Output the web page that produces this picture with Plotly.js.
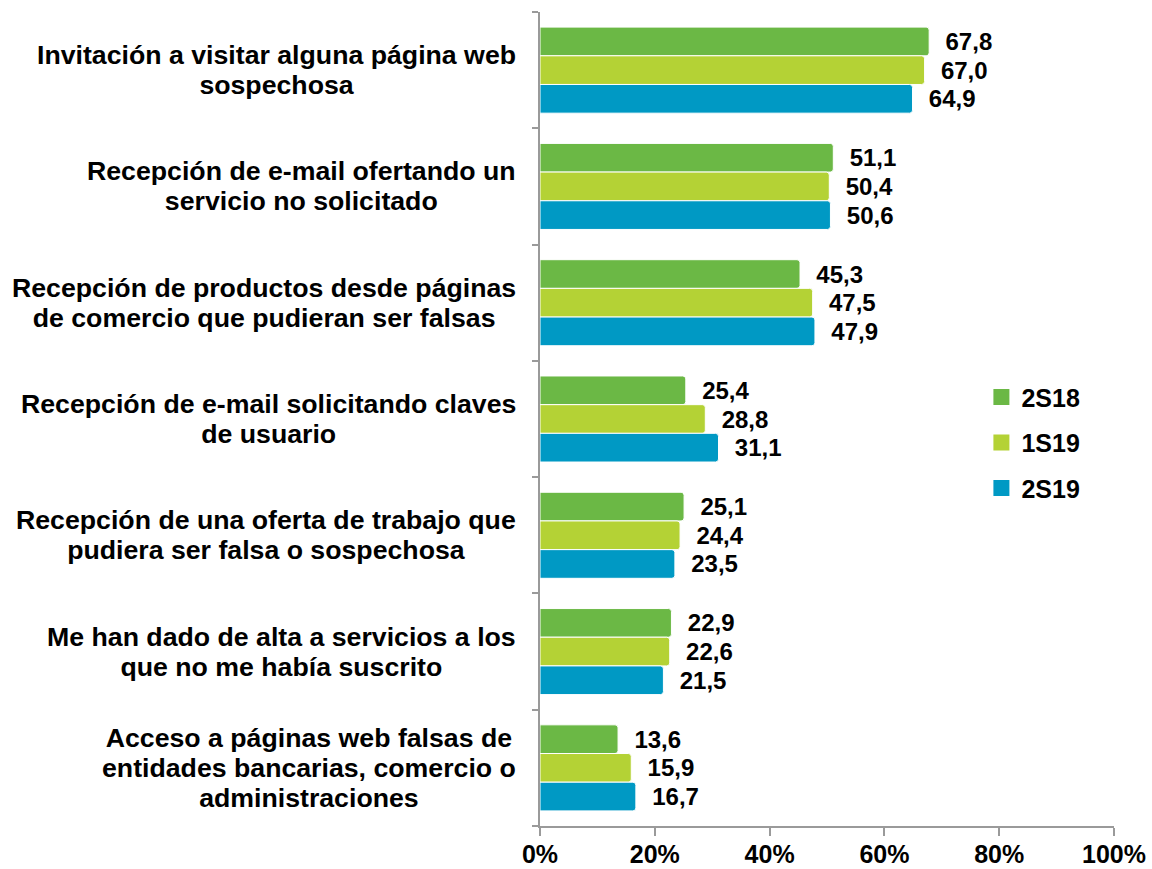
<!DOCTYPE html>
<html><head><meta charset="utf-8">
<script src="https://cdn.plot.ly/plotly-3.0.1.min.js"></script>
<style>html,body{margin:0;padding:0;background:#fff}</style>
</head><body>
<div id="chart" style="width:1152px;height:869px"></div>
<script>
const categories = [
  "Invitación a visitar alguna página web<br>sospechosa",
  "Recepción de e-mail ofertando un<br>servicio no solicitado",
  "Recepción de productos desde páginas<br>de comercio que pudieran ser falsas",
  "Recepción de e-mail solicitando claves<br>de usuario",
  "Recepción de una oferta de trabajo que<br>pudiera ser falsa o sospechosa",
  "Me han dado de alta a servicios a los<br>que no me había suscrito",
  "Acceso a páginas web falsas de<br>entidades bancarias, comercio o<br>administraciones"
];
const seriesNames = ["2S18", "1S19", "2S19"];
const s2S18 = [67.8, 51.1, 45.3, 25.4, 25.1, 22.9, 13.6];
const s1S19 = [67.0, 50.4, 47.5, 28.8, 24.4, 22.6, 15.9];
const s2S19 = [64.9, 50.6, 47.9, 31.1, 23.5, 21.5, 16.7];
const xTicks = [0, 20, 40, 60, 80, 100];

const colors = ["#6BB845", "#B4D235", "#0099C4"];
const FONT = "Liberation Sans, Arial, sans-serif";
const pos = categories.map((c, i) => i);
const allSeries = [s2S18, s1S19, s2S19];

const traces = allSeries.map((vals, k) => ({
  type: "bar",
  orientation: "h",
  name: seriesNames[k],
  showlegend: false,
  x: vals,
  y: pos,
  marker: {color: colors[k], line: {color: "#ffffff", width: 1}, cornerradius: 3},
  text: vals.map(v => v.toFixed(1).replace(".", ",")),
  texttemplate: "  <b>%{text}</b>",
  textposition: "outside",
  cliponaxis: false,
  textfont: {family: FONT, size: 24, color: "#000"},
  hoverinfo: "skip"
}));

const legendTraces = seriesNames.map((n, k) => ({
  type: "scatter", mode: "markers", name: n, legendgroup: n,
  x: [null], y: [null],
  marker: {symbol: "square", size: 18, color: colors[k]},
  hoverinfo: "skip"
}));

const annotations = categories.map((c, i) => ({
  xref: "paper", yref: "y", x: 0, y: i, xshift: -22,
  xanchor: "right", yanchor: "middle", align: "center",
  text: '<span style="font-size:26.7px"><b>' + c.split("<br>").join('</b></span><br><span style="font-size:26.7px"><b>') + "</b></span>",
  showarrow: false,
  font: {family: FONT, size: 23, color: "#000"}
}));

const boundaries = [];
for (let i = 0; i <= categories.length; i++) boundaries.push(i - 0.5);

const layout = {
  width: 1152, height: 869,
  margin: {l: 540, r: 38, t: 12, b: 43},
  paper_bgcolor: "#fff", plot_bgcolor: "#fff",
  barmode: "group", bargap: 0.26, bargroupgap: 0.0,
  showlegend: true,
  legend: {x: 0.769, y: 0.555, xanchor: "left", yanchor: "top",
    font: {family: FONT, size: 25, color: "#000", weight: "bold"},
    tracegroupgap: 10, traceorder: "grouped", bgcolor: "rgba(0,0,0,0)", itemwidth: 30},
  xaxis: {range: [0, 100], tickvals: xTicks, ticktext: xTicks.map(v => "<b>" + v + "%</b>"),
    showgrid: false, zeroline: false, showline: true, linecolor: "#9a9a9a", linewidth: 2,
    ticks: "outside", ticklen: 8, tickwidth: 2, tickcolor: "#9a9a9a", ticklabelstandoff: -3,
    tickfont: {family: FONT, size: 25, color: "#000"}, fixedrange: true},
  yaxis: {range: [categories.length - 0.5, -0.5], tickvals: boundaries,
    ticktext: boundaries.map(() => ""), showgrid: false, zeroline: false,
    showline: true, linecolor: "#9a9a9a", linewidth: 2,
    ticks: "outside", ticklen: 6, tickwidth: 2, tickcolor: "#9a9a9a", fixedrange: true},
  annotations: annotations,
  font: {family: FONT}
};

Plotly.newPlot("chart", traces.concat(legendTraces), layout, {displayModeBar: false, staticPlot: true});
</script>
</body></html>
